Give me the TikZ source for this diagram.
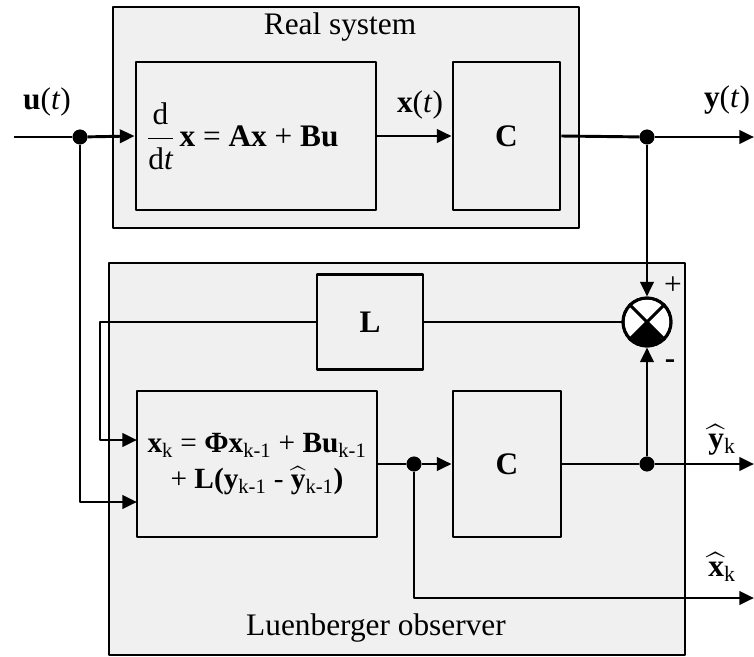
\documentclass[tikz,border=0pt]{standalone}
\usepackage{amsmath}
\usepackage{fontspec}
\setmainfont{Liberation Serif}
\usetikzlibrary{arrows.meta}
\definecolor{panel}{HTML}{F0F0F0}

\begin{document}
\begin{tikzpicture}[x=0.75pt, y=-0.75pt, line join=round,
    frame/.style={draw, line width=1.4pt, fill=panel, inner sep=0pt},
    box/.style={draw, line width=2.2pt, fill=panel, inner sep=0pt, align=center,
                font=\fontsize{23.5}{28}\selectfont},
    lbl/.style={font=\fontsize{23.5}{28}\selectfont, inner sep=0pt},
    wire/.style={line width=2.2pt},
    arr/.style={line width=2.2pt, -{Triangle[length=11pt, width=10pt]}},
    jdot/.style={circle, fill=black, inner sep=0pt, minimum size=11pt},
]
\useasboundingbox (0,0) rectangle (754,657);

% real system
\node[frame, minimum width=349.5pt, minimum height=165.75pt] (realsys) at (346,117.5) {};
\node[lbl] (realsyslabel) at (340,27) {Real system};
\node[box, minimum width=180pt, minimum height=111pt] (dyn) at (256,136)
  {$\dfrac{\text{d}}{\text{d}\textit{t}}$\,\textbf{x} = \textbf{Ax} + \textbf{Bu}\hspace{20pt}};
\node[box, minimum width=80.25pt, minimum height=111pt] (Ctop) at (506.5,136) {\textbf{C}};

% observer
\node[frame, minimum width=432pt, minimum height=294pt] (observer) at (397,459) {};
\node[lbl] (observerlabel) at (376,628) {Luenberger observer};
\node[box, minimum width=79.5pt, minimum height=71.25pt] (Lbox) at (370,322) {\textbf{L}};
\node[box, minimum width=180pt, minimum height=109.5pt, font=\fontsize{22}{27}\selectfont] (eq) at (257,464)
  {\textbf{x}\textsubscript{k} = \textbf{Φx}\textsubscript{k-1} + \textbf{Bu}\textsubscript{k-1}\\
   + \textbf{L(y}\textsubscript{k-1} - $\widehat{\text{\textbf{y}}}$\textsubscript{k-1}\textbf{)}};
\node[box, minimum width=81pt, minimum height=109.5pt] (Cbot) at (507,464) {\textbf{C}};

% summing junction
\node[circle, draw, line width=2.2pt, fill=white, minimum size=36pt, inner sep=0pt] (sum) at (647,322) {};
\fill (sum.center) -- (sum.south west) arc[start angle=225, end angle=315, radius=18pt] -- cycle;
\draw[wire] (sum.north west) -- (sum.south east) (sum.north east) -- (sum.south west);
\draw[line width=2.2pt] (sum) circle[radius=18pt];
\node[lbl] (plus) at (673,286) {+};
\node[lbl] (minus) at (670,364) {\textbf{-}};

% junctions and free ends
\node[jdot] (udot) at (80,137) {};
\node[jdot] (ydot) at (647,137) {};
\node[jdot] (xdot) at (414,464) {};
\node[jdot] (yhatdot) at (647,464) {};
\coordinate (ustart) at (14,137);
\coordinate (yend) at (754,137);
\coordinate (yhatend) at (754,464);
\coordinate (xcorner) at (414,598);
\coordinate (xhatend) at (754,598);
\coordinate (fbcorner) at (100,322);
\coordinate (fbin) at (137,440);
\coordinate (uin) at (137,502);

% signals
\draw[wire] (ustart) -- (udot);
\draw[arr] (udot) -- (dyn.west);
\draw[arr] (dyn.east) -- (Ctop.west);
\draw[wire] (Ctop.east) -- (ydot);
\draw[arr] (ydot) -- (yend);
\draw[arr] (ydot) -- (sum.north);
\draw[wire] (sum.west) -- (Lbox.east);
\draw[arr] (Lbox.west) -- (fbcorner) |- (fbin);
\draw[arr] (udot) |- (uin);
\draw[wire] (eq.east) -- (xdot);
\draw[arr] (xdot) -- (Cbot.west);
\draw[wire] (Cbot.east) -- (yhatdot);
\draw[arr] (yhatdot) -- (yhatend);
\draw[arr] (yhatdot) -- (sum.south);
\draw[arr] (xdot) -- (xcorner) -- (xhatend);

% redraw dots on top
\foreach \d in {udot,ydot,xdot,yhatdot} \fill (\d) circle[radius=5.6pt];

% signal labels
\node[lbl] (ulabel) at (47,102) {\textbf{u}(\textit{t})};
\node[lbl] (xlabel) at (420,105) {\textbf{x}(\textit{t})};
\node[lbl] (ylabel) at (727,100) {\textbf{y}(\textit{t})};
\node[lbl] (yhatlabel) at (722,440) {$\widehat{\text{\textbf{y}}}$\textsubscript{k}};
\node[lbl] (xhatlabel) at (722,567) {$\widehat{\text{\textbf{x}}}$\textsubscript{k}};
\end{tikzpicture}
\end{document}
